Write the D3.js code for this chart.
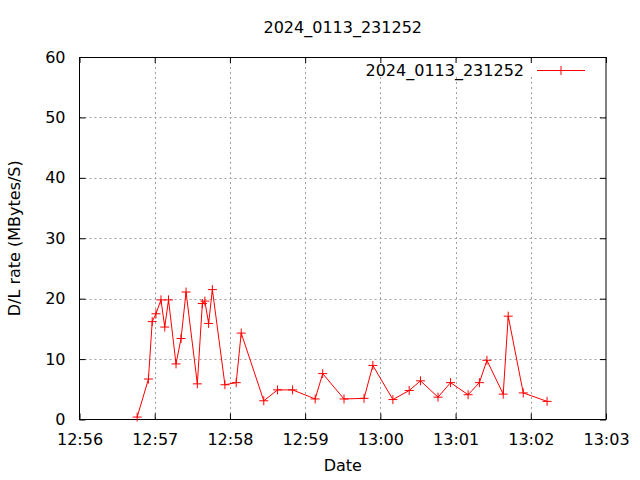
<!DOCTYPE html>
<html>
<head>
<meta charset="utf-8">
<script src="https://cdn.jsdelivr.net/npm/d3@7"></script>
<style>
  html, body { margin: 0; padding: 0; background: #fff; }
  svg { display: block; }
  text { font-family: "DejaVu Sans", sans-serif; fill: #000; }
</style>
</head>
<body>
<svg id="chart" width="640" height="480"></svg>
<script>
const chartTitle = "2024_0113_231252";
const seriesName = "2024_0113_231252";
const xLabel = "Date";
const yLabel = "D/L rate (MBytes/S)";
const times = ["12:56:46","12:56:55","12:56:58","12:57:01","12:57:05","12:57:08","12:57:11","12:57:17","12:57:21","12:57:25","12:57:34","12:57:38","12:57:40","12:57:43","12:57:46","12:57:56","12:58:05","12:58:09","12:58:27","12:58:38","12:58:50","12:59:08","12:59:14","12:59:31","12:59:47","12:59:54","13:00:10","13:00:23","13:00:32","13:00:46","13:00:56","13:01:10","13:01:19","13:01:25","13:01:38","13:01:42","13:01:54","13:02:13"];
const rates = [0.4,6.7,16.2,17.5,19.8,15.3,19.8,9.2,13.4,21.1,5.9,19.2,19.6,15.9,21.5,5.75,6.1,14.3,3.1,4.9,4.9,3.4,7.6,3.4,3.5,8.95,3.3,4.8,6.4,3.7,6.1,4.1,6.1,9.8,4.2,17.1,4.4,3.0];
const xTicks = ["12:56","12:57","12:58","12:59","13:00","13:01","13:02","13:03"];
const yTicks = [0,10,20,30,40,50,60];

const parseT = d3.utcParse("%H:%M:%S");
const parseM = d3.utcParse("%H:%M");
const data = times.map((t, i) => ({ t: parseT(t), v: rates[i] }));
const tickDates = xTicks.map(parseM);

const L = 79.5, R = 606, T = 57, B = 419.5;
const svg = d3.select("#chart");
const x = d3.scaleUtc().domain([tickDates[0], tickDates[tickDates.length - 1]]).range([L, R]);
const y = d3.scaleLinear().domain([0, 60]).range([B, T]);

// grid
const grid = svg.append("g").attr("stroke", "#a0a0a0").attr("stroke-width", 1).attr("stroke-dasharray", "2,3");
grid.selectAll("line.v").data(tickDates.slice(1, -1)).join("line")
  .attr("x1", d => Math.round(x(d)) + 0.5).attr("x2", d => Math.round(x(d)) + 0.5)
  .attr("y1", T).attr("y2", B);
grid.selectAll("line.h").data(yTicks.slice(1, -1)).join("line")
  .attr("x1", L).attr("x2", R)
  .attr("y1", d => Math.round(y(d)) + 0.5).attr("y2", d => Math.round(y(d)) + 0.5);

// legend background
svg.append("rect").attr("x", 360).attr("y", 61).attr("width", 235).attr("height", 16).attr("fill", "#fff");

// axes
const fmt = d3.utcFormat("%H:%M");
const xAxis = d3.axisBottom(x).tickValues(tickDates).tickFormat(fmt).tickSizeInner(-6).tickSizeOuter(0).tickPadding(14);
const gx = svg.append("g").attr("transform", `translate(0,${B})`).call(xAxis);
gx.select(".domain").remove();
gx.selectAll("text").attr("font-size", 16).attr("font-family", "DejaVu Sans").attr("fill", "#000");
const xTop = d3.axisTop(x).tickValues(tickDates).tickFormat("").tickSizeInner(-6).tickSizeOuter(0);
const gxt = svg.append("g").attr("transform", `translate(0,${T})`).call(xTop);
gxt.select(".domain").remove();

const yAxis = d3.axisLeft(y).tickValues(yTicks).tickSizeInner(-6).tickSizeOuter(0).tickPadding(14);
const gy = svg.append("g").attr("transform", `translate(${L},0)`).call(yAxis);
gy.select(".domain").remove();
gy.selectAll("text").attr("font-size", 16).attr("font-family", "DejaVu Sans").attr("fill", "#000");
const yRight = d3.axisRight(y).tickValues(yTicks).tickFormat("").tickSizeInner(-6).tickSizeOuter(0);
const gyr = svg.append("g").attr("transform", `translate(${R},0)`).call(yRight);
gyr.select(".domain").remove();

svg.append("rect").attr("x", L).attr("y", T + 0.5).attr("width", R - L).attr("height", B - T - 0.5)
  .attr("fill", "none").attr("stroke", "#000").attr("stroke-width", 1);

// line
const line = d3.line().x(d => x(d.t)).y(d => y(d.v));
svg.append("path").datum(data).attr("d", line).attr("fill", "none").attr("stroke", "#ff0000").attr("stroke-width", 1);
const ms = 4.5;
svg.append("g").selectAll("path").data(data).join("path")
  .attr("d", d => `M${x(d.t) - ms},${y(d.v)}H${x(d.t) + ms}M${x(d.t)},${y(d.v) - ms}V${y(d.v) + ms}`)
  .attr("stroke", "#ff0000").attr("stroke-width", 1).attr("fill", "none");

// legend
svg.append("text").attr("x", 524).attr("y", 76).attr("text-anchor", "end").attr("font-size", 16).text(seriesName);
svg.append("line").attr("x1", 537).attr("x2", 585).attr("y1", 70.5).attr("y2", 70.5).attr("stroke", "#ff0000");
svg.append("path").attr("d", `M${561 - ms},70.5H${561 + ms}M561,${70.5 - ms}V${70.5 + ms}`).attr("stroke", "#ff0000");

// titles
svg.append("text").attr("x", (L + R) / 2).attr("y", 33).attr("text-anchor", "middle").attr("font-size", 16).text(chartTitle);
svg.append("text").attr("x", (L + R) / 2).attr("y", 471).attr("text-anchor", "middle").attr("font-size", 16).text(xLabel);
svg.append("text").attr("transform", `translate(20,${(T + B) / 2}) rotate(-90)`).attr("text-anchor", "middle").attr("font-size", 16).text(yLabel);
</script>
</body>
</html>
